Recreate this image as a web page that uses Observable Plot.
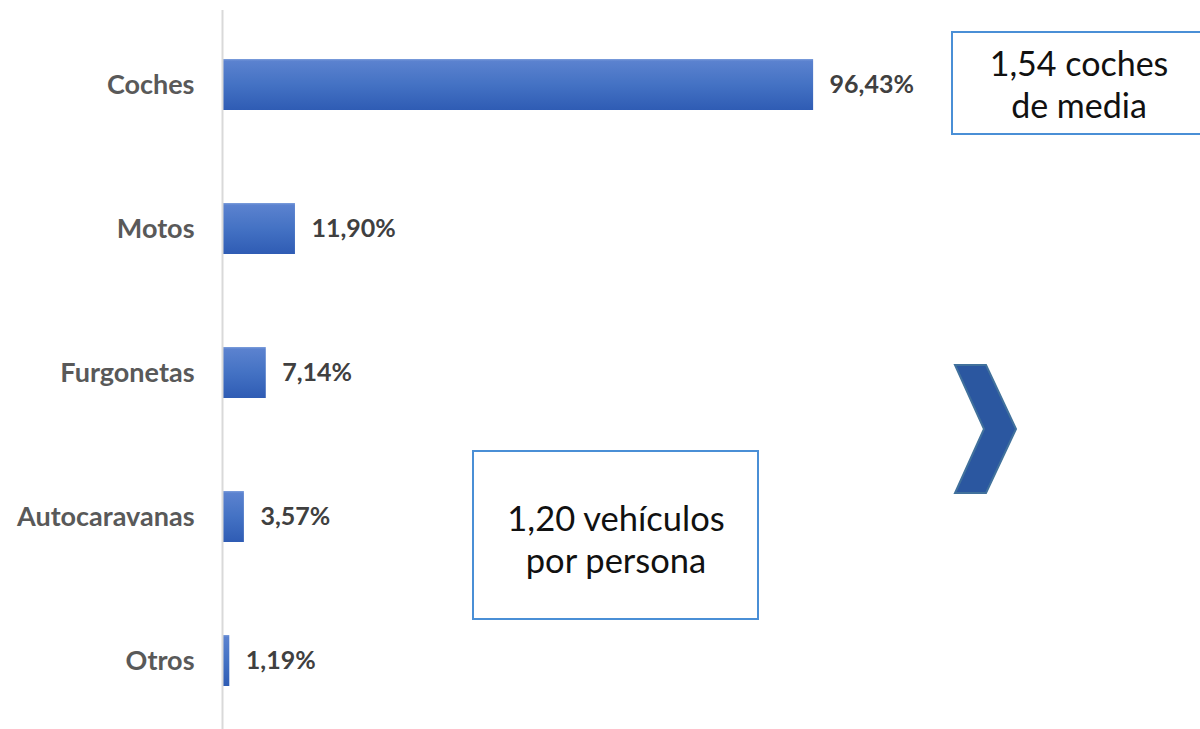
<!DOCTYPE html>
<html>
<head>
<meta charset="utf-8">
<script src="https://cdn.jsdelivr.net/npm/d3@7"></script>
<script src="https://cdn.jsdelivr.net/npm/@observablehq/plot@0.6"></script>
<style>
  html, body { margin: 0; padding: 0; background: #fff; }
  #chart { position: relative; width: 1200px; height: 729px; overflow: hidden; }
</style>
</head>
<body>
<div id="chart"></div>
<script>
const categories = ["Coches", "Motos", "Furgonetas", "Autocaravanas", "Otros"];
const values = [96.43, 11.90, 7.14, 3.57, 1.19];
const valueLabels = ["96,43%", "11,90%", "7,14%", "3,57%", "1,19%"];
const boxTexts = [["1,54 coches", "de media"], ["1,20 vehículos", "por persona"]];

const data = categories.map((c, i) => ({ category: c, value: values[i], label: valueLabels[i] }));

const defs = () => {
  const d = d3.create("svg:defs");
  const g = d.append("linearGradient").attr("id", "barGrad").attr("x1", 0).attr("y1", 0).attr("x2", 0).attr("y2", 1);
  g.append("stop").attr("offset", "0%").attr("stop-color", "#7E9FDC");
  g.append("stop").attr("offset", "4%").attr("stop-color", "#5B82CF");
  g.append("stop").attr("offset", "50%").attr("stop-color", "#4472C4");
  g.append("stop").attr("offset", "100%").attr("stop-color", "#2F5CB4");
  return d.node();
};

const plot = Plot.plot({
  width: 1200,
  height: 729,
  marginLeft: 222,
  marginRight: 365,
  marginTop: 10,
  marginBottom: 0,
  style: { fontFamily: "Lato, sans-serif", background: "#fff" },
  x: { domain: [0, 100], axis: null },
  y: { domain: categories, range: [12, 733], paddingInner: 0.646, paddingOuter: 0.323, label: null },
  marks: [
    defs,
    Plot.barX(data, { x: "value", y: "category", fill: "url(#barGrad)" }),
    Plot.ruleX([0], { stroke: "#D9D9D9", strokeWidth: 2 }),
    Plot.axisY({ tickSize: 0, tickPadding: 28, fontSize: 27, fontWeight: "bold", fill: "#595959", label: null }),
    Plot.text(data, { x: "value", y: "category", text: "label", textAnchor: "start", dx: 16, fontSize: 25, fontWeight: "bold", fill: "#404040" })
  ]
});

document.getElementById("chart").appendChild(plot);

const svg = d3.select(plot);
const ann = svg.append("g").attr("font-family", "Lato, sans-serif");

function box(x, y, w, h, lines, cx, cy, fs, gap) {
  ann.append("rect").attr("x", x).attr("y", y).attr("width", w).attr("height", h)
    .attr("fill", "#fff").attr("stroke", "#4A8FD6").attr("stroke-width", 2);
  lines.forEach((t, i) => {
    ann.append("text").attr("x", cx).attr("y", cy + i * gap).attr("text-anchor", "middle")
      .attr("dominant-baseline", "central").attr("font-size", fs).attr("fill", "#111").text(t);
  });
}
box(952, 32, 260, 102, boxTexts[0], 1079, 62, 34, 42);
box(473, 451, 285, 168, boxTexts[1], 616, 517, 34.5, 42);

ann.append("path")
  .attr("d", "M955,365 L986,365 L1016,429 L986,493 L955,493 L984,429 Z")
  .attr("fill", "#2B57A0").attr("stroke", "#41719C").attr("stroke-width", 2);
</script>
</body>
</html>
